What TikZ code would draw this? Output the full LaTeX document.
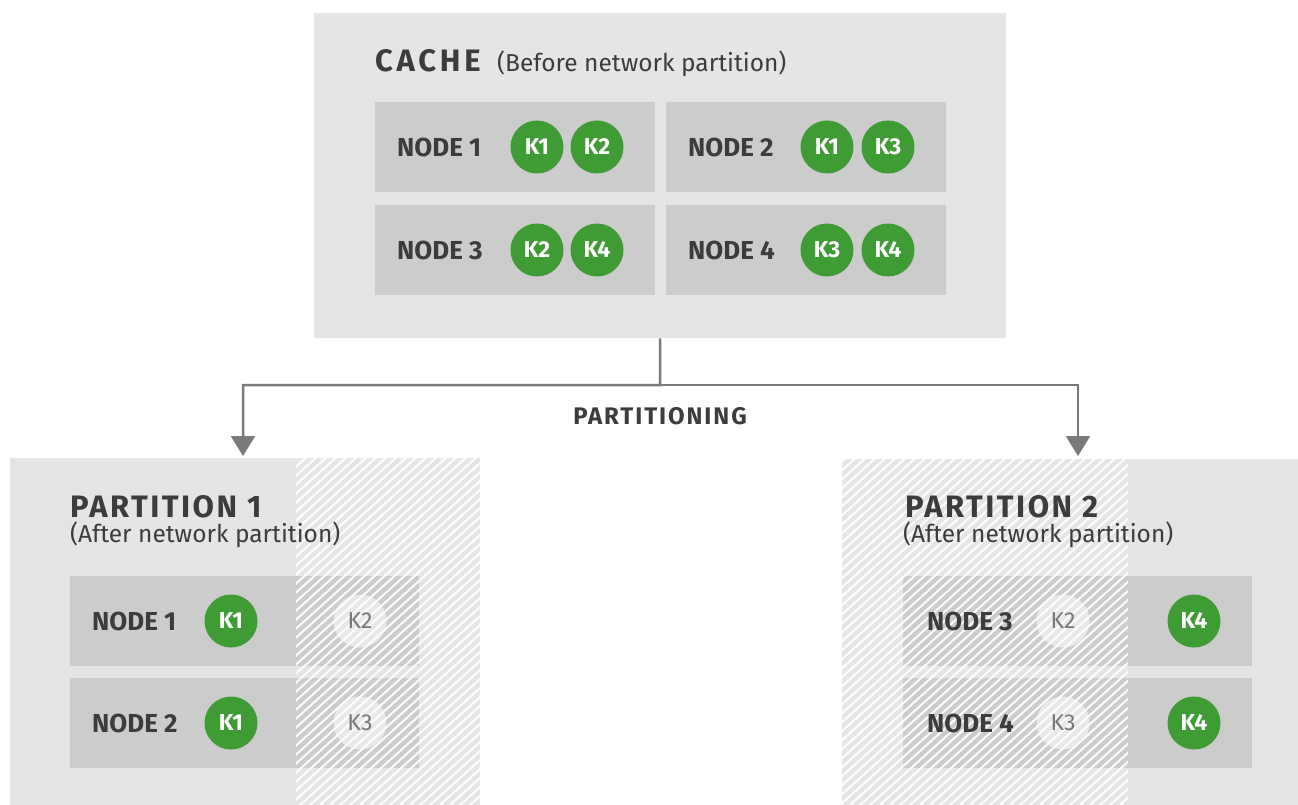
\documentclass[tikz,border=0pt]{standalone}
\usepackage{fontspec}
\setmainfont{Fira Sans}
\newfontfamily\widefont[LetterSpace=8]{Fira Sans}
\newfontfamily\widerfont[LetterSpace=12]{Fira Sans}
\usetikzlibrary{arrows.meta}
\definecolor{bgl}{HTML}{E5E5E5}
\definecolor{boxg}{HTML}{CCCCCC}
\definecolor{kgreen}{HTML}{3F9C35}
\definecolor{txt}{HTML}{3C3C3C}
\definecolor{arrg}{HTML}{7A7A7A}
\definecolor{ghostt}{HTML}{787878}
\begin{document}
\begin{tikzpicture}[x=1pt,y=-1pt,
  area/.style={fill=bgl, draw=none, inner sep=0, anchor=north west},
  nodebox/.style={fill=boxg, draw=none, inner sep=0, anchor=north west, minimum width=280pt, minimum height=90pt},
  pbox/.style={fill=boxg, draw=none, inner sep=0, anchor=north west, minimum width=349pt, minimum height=90pt},
  kk/.style={circle, fill=kgreen, minimum size=53pt, inner sep=0, text=white, font=\fontsize{23}{26}\selectfont\bfseries},
  ghost/.style={circle, fill=white, fill opacity=0.55, minimum size=53pt, inner sep=0},
  ghosttext/.style={text=ghostt, inner sep=0, font=\fontsize{23}{26}\selectfont},
  lbl/.style={anchor=west, inner sep=0, text=txt, font=\fontsize{26}{30}\selectfont\bfseries},
  title/.style={anchor=base west, inner sep=0, text=txt, font=\fontsize{31}{36}\selectfont\widefont\bfseries},
  sub/.style={anchor=base west, inner sep=0, text=txt, font=\fontsize{24.5}{29}\selectfont},
  conn/.style={draw=arrg, line width=2.5pt, -{Triangle[width=24pt,length=20pt]}},
  stripe/.style={white, line width=2pt, opacity=0.95}
]
\useasboundingbox (0,0) rectangle (1298,805);
\fill[white] (0,0) rectangle (1298,805);

% ---- cache (before partition)
\node[area, minimum width=692pt, minimum height=325pt] (cache) at (314,13) {};
\node[title, font=\fontsize{31}{36}\selectfont\widerfont\bfseries] (ctitle) at (375,72) {CACHE};
\node[sub] (csub) at (497,72) {(Before network partition)};

\node[nodebox] (c1) at (375,102) {};
\node[nodebox] (c2) at (666,102) {};
\node[nodebox] (c3) at (375,205) {};
\node[nodebox] (c4) at (666,205) {};

\node[lbl] (c1l) at (397,147) {NODE 1};
\node[lbl] (c2l) at (688,147) {NODE 2};
\node[lbl] (c3l) at (397,250) {NODE 3};
\node[lbl] (c4l) at (688,250) {NODE 4};

\node[kk] (c1a) at (537,147) {K1};
\node[kk] (c1b) at (597,147) {K2};
\node[kk] (c2a) at (827,147) {K1};
\node[kk] (c2b) at (888,147) {K3};
\node[kk] (c3a) at (537,250) {K2};
\node[kk] (c3b) at (597,250) {K4};
\node[kk] (c4a) at (827,250) {K3};
\node[kk] (c4b) at (888,250) {K4};

% ---- partition 1
\node[area, minimum width=470pt, minimum height=347pt] (p1) at (10,458) {};
\node[pbox] (p1n1) at (70,576) {};
\node[pbox] (p1n2) at (70,678) {};
\node[kk] (p1k1) at (231,621) {K1};
\node[kk] (p1k2) at (231,723) {K1};
\node[ghost] (p1g1) at (360,621) {};
\node[ghost] (p1g2) at (360,723) {};
\begin{scope}
  \clip (296,458) rectangle (480,805);
  \foreach \i in {0,...,65} \draw[stripe] (-100+\i*10,805) -- ++(389,-350);
\end{scope}
\node[ghosttext] (p1g1t) at (p1g1) {K2};
\node[ghosttext] (p1g2t) at (p1g2) {K3};
\node[title] (p1t) at (70,517) {PARTITION 1};
\node[sub] (p1s) at (70,542) {(After network partition)};
\node[lbl] (p1l1) at (92,621) {NODE 1};
\node[lbl] (p1l2) at (92,723) {NODE 2};

% ---- partition 2
\node[area, minimum width=456pt, minimum height=346pt] (p2) at (842,459) {};
\node[pbox] (p2n1) at (903,576) {};
\node[pbox] (p2n2) at (903,678) {};
\node[kk] (p2k1) at (1194,621) {K4};
\node[kk] (p2k2) at (1194,723) {K4};
\node[ghost] (p2g1) at (1063,621) {};
\node[ghost] (p2g2) at (1063,723) {};
\begin{scope}
  \clip (842,459) rectangle (1128,805);
  \foreach \i in {0,...,72} \draw[stripe] (440+\i*10,805) -- ++(389,-350);
\end{scope}
\node[ghosttext] (p2g1t) at (p2g1) {K2};
\node[ghosttext] (p2g2t) at (p2g2) {K3};
\node[title] (p2t) at (905,517) {PARTITION 2};
\node[sub] (p2s) at (903,542) {(After network partition)};
\node[lbl] (p2l1) at (927,621) {NODE 3};
\node[lbl] (p2l2) at (927,723) {NODE 4};

% ---- connectors
\coordinate (split) at (660,385);
\coordinate (a1) at (243,456);
\coordinate (a2) at (1078,456);
\draw[conn] (cache.south) -- (split) -| (a1);
\draw[conn] (split) -| (a2);
\node[inner sep=0, text=txt, font=\fontsize{24}{28}\selectfont\widefont\bfseries] (ptxt) at (660,416) {PARTITIONING};
\end{tikzpicture}
\end{document}
